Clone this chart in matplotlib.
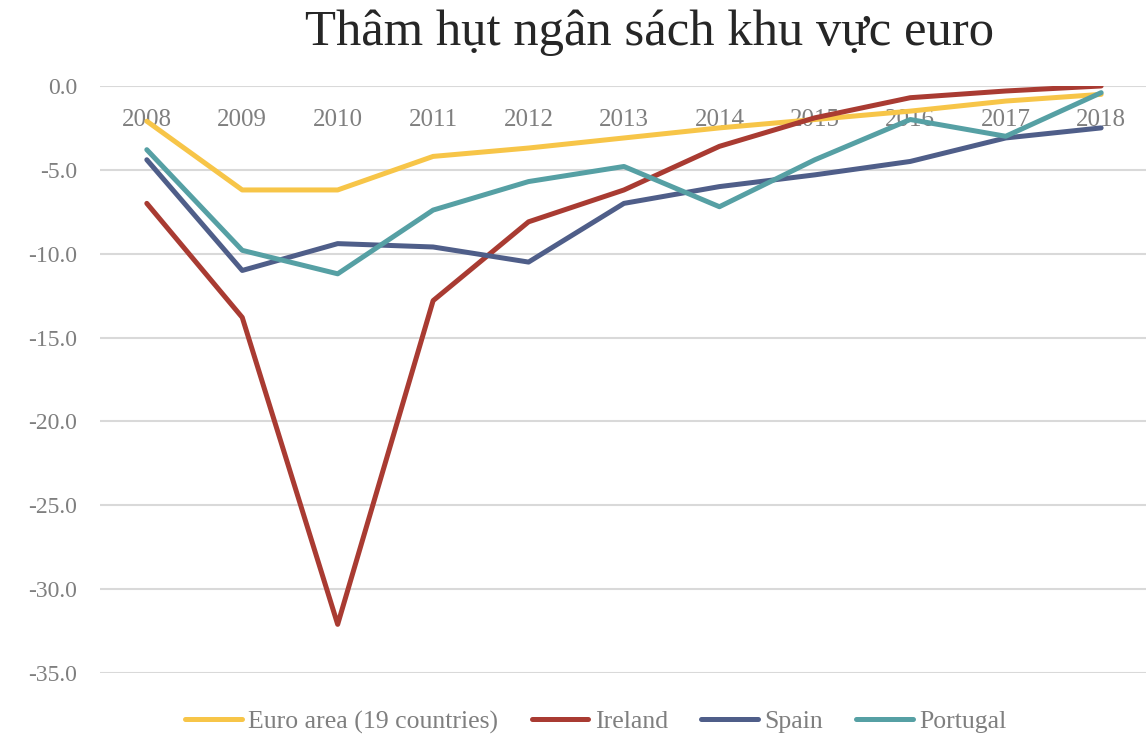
import numpy as np
import matplotlib
matplotlib.use("Agg")
import matplotlib.pyplot as plt

# data
years = ["2008", "2009", "2010", "2011", "2012", "2013", "2014", "2015", "2016", "2017", "2018"]
euro_area = [-2.1, -6.2, -6.2, -4.2, -3.7, -3.1, -2.5, -2.0, -1.5, -0.9, -0.5]
ireland = [-7.0, -13.8, -32.1, -12.8, -8.1, -6.2, -3.6, -1.9, -0.7, -0.3, 0.0]
spain = [-4.4, -11.0, -9.4, -9.6, -10.5, -7.0, -6.0, -5.3, -4.5, -3.1, -2.5]
portugal = [-3.8, -9.8, -11.2, -7.4, -5.7, -4.8, -7.2, -4.4, -2.0, -3.0, -0.4]

series_names = ["Euro area (19 countries)", "Ireland", "Spain", "Portugal"]
series_colors = ["#F7C548", "#A93B32", "#4F5E89", "#56A0A4"]

plt.rcParams["font.family"] = ["Liberation Serif", "DejaVu Serif"]
text_gray = "#7F7F7F"

fig = plt.figure(figsize=(11.46, 7.36), dpi=100)
ax = fig.add_axes([0.0873, 0.0856, 0.9127, 0.7976])

x = np.arange(len(years))
for vals, name, col in zip([euro_area, ireland, spain, portugal], series_names, series_colors):
    ax.plot(x, vals, color=col, lw=3.6, label=name, solid_capstyle="round", zorder=3)

ax.set_xlim(-0.49, 10.47)
ax.set_ylim(-35, 0)
ax.set_yticks(np.arange(-35, 1, 5))
ax.set_yticklabels([f"{v:.1f}" for v in np.arange(-35, 1, 5)])
ax.grid(axis="y", color="#D9D9D9", lw=1.5, zorder=0)
ax.set_axisbelow(True)
for s in ax.spines.values():
    s.set_visible(False)

# year labels sit just under the zero line
ax.set_xticks(x)
ax.set_xticklabels(years)
ax.tick_params(axis="x", bottom=False, top=False, labelbottom=False, labeltop=True,
               pad=-36, labelsize=18, labelcolor=text_gray)
ax.tick_params(axis="y", left=False, pad=13, labelsize=17, labelcolor=text_gray)

fig.text(0.567, 0.955, "Thâm hụt ngân sách khu vực euro", ha="center", va="center",
         fontsize=36.5, color="#262626")

fig.legend(loc="center", bbox_to_anchor=(0.52, 0.019), ncol=4, frameon=False,
           fontsize=18.5, handlelength=2.2, handletextpad=0.25, columnspacing=1.3,
           labelcolor=text_gray)

fig.savefig("out.png", dpi=100)
